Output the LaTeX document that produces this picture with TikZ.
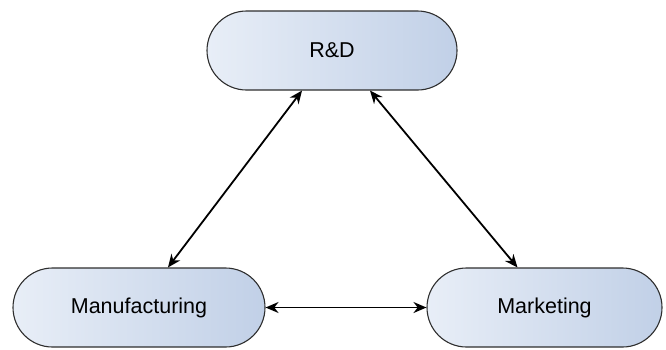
\documentclass[tikz,border=0pt]{standalone}
\usepackage{fontspec}
\setmainfont{Liberation Sans}
\usetikzlibrary{arrows.meta,calc}
\definecolor{boxL}{HTML}{E8EEF7}
\definecolor{boxR}{HTML}{C1D0E7}
\definecolor{boxLine}{HTML}{2E2E2E}
\tikzset{
  dept/.style={draw=boxLine, line width=1.1pt, rounded corners=39.5pt,
    minimum height=79pt, left color=boxL, right color=boxR,
    font=\fontsize{21.5}{26}\selectfont, text=black, inner sep=0pt},
  link/.style={line width=1.8pt, {Stealth[length=13pt,width=11pt]}-{Stealth[length=13pt,width=11pt]}}
}
\begin{document}
\begin{tikzpicture}[x=1pt,y=-1pt]
\useasboundingbox (0,0) rectangle (666,349);
\node[dept, minimum width=250pt] (rd) at (332,50.5) {R\&D};
\node[dept, minimum width=252pt] (mf) at (139,307.5) {Manufacturing};
\node[dept, minimum width=235pt] (mk) at (544.5,307.5) {Marketing};
\draw[link] ([xshift=-30pt]rd.south) -- ([xshift=29pt]mf.north);
\draw[link] ([xshift=38pt]rd.south) -- ([xshift=-27pt]mk.north);
\draw[link] (mf.east) -- (mk.west);
\end{tikzpicture}
\end{document}
